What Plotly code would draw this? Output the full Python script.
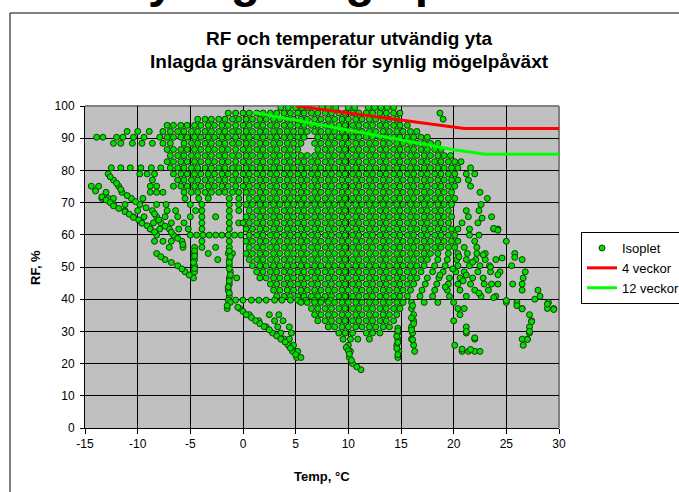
import plotly.graph_objects as go

# ---------------- data ----------------
# Isoplet scatter, organised as rows of temperatures at roughly constant RF
t_99_5 = [3.6,4.3,5,5.6,6.2,7.5,8.1,8.8,10,10.6,11.9,12.5,13.1,13.7,14.3]
t_97_8 = [-1.4,-0.7,0,0.6,1.3,1.9,2.6,3.2,3.9,4.5,5.2,5.8,6.5,7.1,7.8,8.4,9.1,9.7,10.4,11,11.7,12.3,13,13.6,14.3,14.9,18.7]
t_95_9 = [-4.3,-3.6,-3,-2.3,-1.7,-1,-0.4,0.3,0.9,1.6,2.2,2.9,3.5,4.2,4.8,5.5,6.1,6.8,7.4,8.1,8.7,9.4,10,10.7,11.3,12,12.6,13.3,13.9,14.6,19]
t_94_0 = [-7.2,-6.6,-5.9,-5.3,-4.6,-4,-3.3,-2.7,-2,-1.4,-0.7,0,0.6,1.3,1.9,2.6,3.2,3.9,4.5,5.2,5.8,6.5,7.1,7.8,8.4,9.1,9.7,10.4,11,11.7,12.3,13,13.6,14.3,14.9,15.6]
t_92_1 = [-11,-10,-8.9,-7.6,-6.9,-6.2,-5.6,-4.9,-4.3,-3.6,-3,-2.3,-1.7,-1,-0.4,0.3,0.9,1.6,2.2,2.9,3.5,4.2,4.8,5.5,6.1,6.8,7.4,8.1,8.7,9.4,10,10.7,11.3,12,12.6,13.3,13.9,14.6,15.2,15.9,16.5]
t_90_3 = [-13.9,-13.3,-12,-11.4,-10.4,-9.4,-7.9,-7.2,-6.6,-5.9,-5.3,-4.6,-4,-3.3,-2.7,-2,-1.4,-0.7,0,0.6,1.3,1.9,2.6,3.2,3.9,4.5,5.2,5.8,7.1,7.8,8.4,9.1,9.7,10.4,11,11.7,12.3,13,13.6,14.3,14.9,15.6,16.2,16.9,17.5]
t_88_4 = [-12.3,-11.6,-10.5,-9.6,-8.6,-7.6,-6.9,-5.6,-4.9,-4.3,-3.6,-3,-2.3,-1.7,-1,-0.4,0.3,0.9,1.6,2.2,2.9,3.5,4.2,4.8,5.5,6.8,7.4,8.1,8.7,9.4,10,10.7,11.3,12,12.6,13.3,13.9,14.6,15.2,15.9,16.5,17.2,17.8,18.5]
t_86_5 = [-7.2,-6.6,-5.9,-5.3,-4.6,-4,-3.3,-2.7,-2,-1.4,-0.7,0,0.6,1.3,1.9,2.6,3.2,3.9,4.5,5.2,7.1,7.8,8.4,9.1,9.7,10.4,11,11.7,12.3,13,13.6,14.3,14.9,15.6,16.2,16.9,17.5,18.2,18.8]
t_84_6 = [-6.9,-6.2,-5.6,-4.9,-4.3,-3.6,-3,-2.3,-1.7,-1,-0.4,0.3,0.9,1.6,2.2,2.9,3.5,4.2,4.8,5.5,6.1,6.8,7.4,8.1,8.7,9.4,10,10.7,11.3,12,12.6,13.3,13.9,14.6,15.2,15.9,16.5,17.2,17.8,18.5,19.1,19.7]
t_82_7 = [-7.2,-6.6,-5.9,-5.3,-4.6,-4,-3.3,-2.7,-2,-1.4,-0.7,0,0.6,1.3,1.9,2.6,3.2,3.9,4.5,5.2,5.8,6.5,7.1,7.8,8.4,9.1,9.7,10.4,11,11.7,12.3,13,13.6,14.3,14.9,15.6,16.2,16.9,17.5,18.2,18.8,19.5,20.1,20.7]
t_80_8 = [-12.5,-11.6,-10.7,-9.7,-8.7,-7.8,-6.9,-6.2,-5.6,-4.9,-4.3,-3.6,-3,-2.3,-1.7,-1,-0.4,0.3,0.9,1.6,2.2,2.9,3.5,4.2,4.8,5.5,6.1,6.8,7.4,8.1,8.7,9.4,10,10.7,11.3,12,12.6,13.3,13.9,14.6,15.2,15.9,16.5,17.2,17.8,18.5,19.1,19.8,20.4,21.6]
t_78_9 = [-12.8,-9.8,-9.1,-8.4,-6.6,-5.9,-5.3,-4.6,-4,-3.3,-2.7,-2,-1.4,-0.7,0,0.6,1.3,1.9,2.6,3.2,3.9,4.5,5.2,5.8,6.5,7.1,7.8,8.4,9.1,9.7,10.4,11,11.7,12.3,13,13.6,14.3,14.9,15.6,16.2,16.9,17.5,18.2,18.8,19.5,20.1,21.2,22]
t_77_0 = [-12.3,-8.6,-6.2,-5.6,-4.9,-4.3,-3.6,-3,-2.3,-1.7,-1,-0.4,0.3,0.9,1.6,2.2,2.9,3.5,4.2,4.8,5.5,6.1,6.8,7.4,8.1,8.7,9.4,10,10.7,11.3,12,12.6,13.3,13.9,14.6,15.2,15.9,16.5,17.2,17.8,18.5,19.1,19.8,20.4,21.4]
t_75_1 = [-14.4,-13.7,-11.8,-8.8,-8.2,-6.6,-5.9,-5.3,-4.6,-4,-3.3,-2.7,-2,-1.4,-0.7,0,0.6,1.3,1.9,2.6,3.2,3.9,4.5,5.2,5.8,6.5,7.1,7.8,8.4,9.1,9.7,10.4,11,11.7,12.3,13,13.6,14.3,14.9,15.6,16.2,16.9,17.5,18.2,18.8,19.5,20.1,21.6]
t_73_2 = [-13,-11.5,-8.8,-8.2,-7.6,-5.6,-4.9,-4.3,-3.6,-3,-2.3,-1.7,-1,-0.4,0.3,0.9,1.6,2.2,2.9,3.5,4.2,4.8,5.5,6.1,6.8,7.4,8.1,8.7,9.4,10,10.7,11.3,12,12.6,13.3,13.9,14.6,15.2,15.9,16.5,17.2,17.8,18.5,19.1,19.8,22.5]
t_71_3 = [-13.4,-12.8,-12.3,-10.6,-9.5,-5.5,-4.2,-3.3,-1.3,-0.4,0.6,1.3,1.9,2.6,3.2,3.9,4.5,5.2,5.8,6.5,7.1,7.8,8.4,9.1,9.7,10.4,11,11.7,12.3,13,13.6,14.3,14.9,15.6,16.2,16.9,17.5,18.2,18.8,19.5,20.1,23.2]
t_69_4 = [-12.3,-11.2,-9.8,-8.2,-7.3,-5,-3.9,-1.3,-0.4,0.3,0.9,1.6,2.2,2.9,3.5,4.2,4.8,5.5,6.1,6.8,7.4,8.1,8.7,9.4,10,10.7,11.3,12,12.6,13.3,13.9,14.6,15.2,15.9,16.5,17.2,17.8,18.5,19.1,19.8,22.6]
t_67_5 = [-11.2,-10,-8.6,-7.2,-6.4,-4.5,-3.9,-1.3,-0.4,0.6,1.3,1.9,2.6,3.2,3.9,4.5,5.2,5.8,6.5,7.1,7.8,8.4,9.1,9.7,10.4,11,11.7,12.3,13,13.6,14.3,14.9,15.6,16.2,16.9,17.5,18.2,18.8,19.5,21.2,22.4]
t_65_6 = [-10.4,-9.4,-8.2,-7.4,-6.2,-5,-3.9,-2.6,-1.3,0.3,0.9,1.6,2.2,2.9,3.5,4.2,4.8,5.5,6.1,6.8,7.4,8.1,8.7,9.4,10,10.7,11.3,12,12.6,13.3,13.9,14.6,15.2,15.9,16.5,17.2,17.8,18.5,19.1,19.8,21.4,23.6]
t_63_7 = [-9.6,-8.5,-7.8,-6.8,-5.6,-3.9,-1.3,-0.4,0,0.6,1.3,1.9,2.6,3.2,3.9,4.5,5.2,5.8,6.5,7.1,7.8,8.4,9.1,9.7,10.4,11,11.7,12.3,13,13.6,14.3,14.9,15.6,16.2,16.9,17.5,18.2,18.8,19.5,20.8,22.3]
t_61_8 = [-8.8,-7.9,-7,-6.1,-5.2,-3.9,-1.3,0.3,0.9,1.6,2.2,2.9,3.5,4.2,4.8,5.5,6.1,6.8,7.4,8.1,8.7,9.4,10,10.7,11.3,12,12.6,13.3,13.9,14.6,15.2,15.9,16.5,17.2,17.8,18.5,19.1,19.8,20.4,21.5,23.8,24.2]
t_59_9 = [-8.2,-6.6,-5,-4.4,-3.8,-3.2,-2.6,-2,-1.4,-0.8,-0.2,0.6,1.3,1.9,2.6,3.2,3.9,4.5,5.2,5.8,6.5,7.1,7.8,8.4,9.1,9.7,10.4,11,11.7,12.3,13,13.6,14.3,14.9,15.6,16.2,16.9,17.5,18.2,18.8,19.5,20.1,21.5,22.4]
t_58_0 = [-8.4,-7.6,-6.8,-5.8,-3.9,-1.3,0.3,0.9,1.6,2.2,2.9,3.5,4.2,4.8,5.5,6.1,6.8,7.4,8.1,8.7,9.4,10,10.7,11.3,12,12.6,13.3,13.9,14.6,15.2,15.9,16.5,17.2,17.8,18.5,19.1,19.8,20.4,22,25]
t_56_1 = [-7,-5.7,-4.6,-3.9,-2.6,-1.3,0.6,1.3,1.9,2.6,3.2,3.9,4.5,5.2,5.8,6.5,7.1,7.8,8.4,9.1,9.7,10.4,11,11.7,12.3,13,13.6,14.3,14.9,15.6,16.2,16.9,17.5,18.2,18.8,19.5,20.1,21,22.2]
t_54_2 = [-8.2,-4.6,-3.3,-1.4,-1,0.3,0.9,1.6,2.2,2.9,3.5,4.2,4.8,5.5,6.1,6.8,7.4,8.1,8.7,9.4,10,10.7,11.3,12,12.6,13.3,13.9,14.6,15.2,15.9,16.5,17.2,17.8,18.5,19.5,20.4,21.3,22.2,23,25.8]
t_52_3 = [-7.4,-4.6,-2.4,-1.3,0.6,1.3,1.9,2.6,3.2,3.9,4.5,5.2,5.8,6.5,7.1,7.8,8.4,9.1,9.7,10.4,11,11.7,12.3,13,13.6,14.3,14.9,15.6,16.2,16.9,17.5,18.5,19.4,20.3,21.2,22.1,23,24,26.5]
t_50_4 = [-6.2,-4.6,-1.3,0.9,1.6,2.2,2.9,3.5,4.2,4.8,5.5,6.1,6.8,7.4,8.1,8.7,9.4,10,10.7,11.3,12,12.6,13.3,13.9,14.6,15.2,15.9,16.5,17.2,18.2,19.2,20.4,21.5,22.5,23.4,25.5]
t_48_5 = [-5.5,-4.6,-1.2,1.3,1.9,2.6,3.2,3.9,4.5,5.2,5.8,6.5,7.1,7.8,8.4,9.1,9.7,10.4,11,11.7,12.3,13,13.6,14.3,14.9,15.6,16.2,16.9,18,19,20.2,21,22.3,23.5,24.4,26.8]
t_46_6 = [-4.7,-1.3,-0.6,1.6,2.2,2.9,3.5,4.2,4.8,5.5,6.1,6.8,7.4,8.1,8.7,9.4,10,10.7,11.3,12,12.6,13.3,13.9,14.6,15.2,15.9,16.5,17.5,18.6,19.6,20.6,21.8,22.8,26.6]
t_44_7 = [-1.3,2.6,3.2,3.9,4.5,5.2,5.8,6.5,7.1,7.8,8.4,9.1,9.7,10.4,11,11.7,12.3,13,13.6,14.3,14.9,15.6,16.2,17.3,18.4,19.5,20.4,21.6,22.9,24.2,25.6,26.5]
t_42_8 = [-1.4,2.9,3.5,4.2,4.8,5.5,6.1,6.8,7.4,8.1,8.7,9.4,10,10.7,11.3,12,12.6,13.3,13.9,14.6,15.2,15.9,17,18.2,19.4,20.6,22,23.3,26.5,28]
t_40_9 = [-1.3,3.2,3.9,4.5,5.2,5.8,6.5,7.1,7.8,8.4,9.1,9.7,10.4,11,11.7,12.3,13,13.6,14.3,14.9,15.6,16.8,18,19.6,21.2,22.6,24,28.2]
t_39_7 = [-1.4,-0.7,0,0.8,1.5,2.2,3,3.7,4.5,5.2,6,6.8,7.5,8.3]
t_39_0 = [-1.2,5.5,6.1,6.8,7.4,8.1,8.7,9.4,10,10.7,11.3,12,12.6,13.3,13.9,14.6,15.2,16,17.2,18.5,20,25,26,29]
t_37_1 = [-1.5,-0.3,6.5,7.1,7.8,8.4,9.1,9.7,10.4,11,11.7,12.3,13,13.6,14.3,14.9,16,20.4,21,26.5,28.9,29.5]
t_35_2 = [0.6,2.5,3.4,6.8,7.4,8.1,8.7,9.4,10,10.7,11.3,12,12.6,13.3,13.9,14.6,16.2,20.6,27.2]
t_33_3 = [1.5,3,3.8,7.1,7.8,8.4,9.1,9.7,10.4,11,11.7,12.3,13,13.6,14.3,16.2,20,27.4]
t_31_4 = [2.2,3.3,4.4,8.1,8.7,9.4,10,10.7,11.3,12,12.6,13.3,13.9,16,21.2,27.2]
t_29_5 = [2.8,3.6,4.6,9.1,9.7,10.4,11.7,12.3,13,14.7,16.1,21.2,27.2]
t_27_6 = [3.9,4.4,9.5,10.2,10.9,12,14.7,16,22,26.5,27]
t_25_7 = [4.3,4.8,10,14.6,16.2,20.1,26.6]
t_23_8 = [4.7,5.2,10.2,14.8,16.3,20.8,21.4,22,22.5]
t_21_9 = [5.1,5.5,10.1,14.7]
t_20_0 = [10.4]
t_18_1 = [11.2]

isoplet_rows = [
    (99.5, t_99_5), (97.8, t_97_8), (95.9, t_95_9), (94.0, t_94_0), (92.1, t_92_1),
    (90.3, t_90_3), (88.4, t_88_4), (86.5, t_86_5), (84.6, t_84_6), (82.7, t_82_7),
    (80.8, t_80_8), (78.9, t_78_9), (77.0, t_77_0), (75.1, t_75_1), (73.2, t_73_2),
    (71.3, t_71_3), (69.4, t_69_4), (67.5, t_67_5), (65.6, t_65_6), (63.7, t_63_7),
    (61.8, t_61_8), (59.9, t_59_9), (58.0, t_58_0), (56.1, t_56_1), (54.2, t_54_2),
    (52.3, t_52_3), (50.4, t_50_4), (48.5, t_48_5), (46.6, t_46_6), (44.7, t_44_7),
    (42.8, t_42_8), (40.9, t_40_9), (39.7, t_39_7), (39.0, t_39_0), (37.1, t_37_1),
    (35.2, t_35_2), (33.3, t_33_3), (31.4, t_31_4), (29.5, t_29_5), (27.6, t_27_6),
    (25.7, t_25_7), (23.8, t_23_8), (21.9, t_21_9), (20.0, t_20_0), (18.1, t_18_1),
]

# extra isolated chains of points (temperature, RF)
chain_temp = [-14,-13.4,-13,-12.6,-12.3,-11.8,-11.2,-10.8,-10.4,-9.9,-9.6,-9.1,-8.8,-8.4,
              -12.6,-12,-11.6,-11,-10.2,-9.2,-8.4,-8,-7.4,-6.8,-6.2,-5.7,
              -7.8,-6.8,-5.8,-5.1,-4.6,-4.6,-4.7,-4.6,
              -1.3,-1.2,-1.3,-1.3,-1.2,-1.3,-1.4,-1.3,-1.5,
              -0.5,0,0.3,0.8,1.2,1.6,2,2.5,3.2,3.6,4,4.5,5,
              9.8,10,10.1,10.3,10.8,
              14.7,14.6,14.7,14.6,14.7,14.7,
              16.1,16,16.2,16,16.1,
              21.2,22,20.8,21.6,
              25,26,28.9,29.5,27.7,26.5,27.4,27.2,27,
              23.8,22.7,24.2,25.8,
              20.5,21.8,23.5,24.2,20.9,23.6,22.4,23.8,19.2,21.2,24.6,22.8,19.9,18.7]
chain_rf = [73.6,71.8,70.8,70,69,68.2,67.2,66.4,65.4,64.6,63.6,62.8,61.8,60.9,
            78,76,74.1,72.2,70.3,68.4,66.5,64.6,62.7,60.8,58.9,57,
            53.2,51.4,49.4,47.5,55,53.4,51.4,49.5,
            55,53.2,51.4,49.5,47.6,45.7,43.8,41.9,38,
            37.5,36.2,35.2,34.3,33.3,32.4,31.5,30.5,28.6,27.6,26.7,24.8,22.8,
            25,24,23,21,19,
            31,28.5,26.6,24.7,22.8,30.2,
            38,34.2,32.4,30.4,27.4,
            30,28,24.5,24.4,
            39.6,38,38.5,36.8,40,37,33,30,27.5,
            62,65.2,61.4,53,
            53.2,51.5,50,47.6,45.7,44.7,41.9,40.5,43.8,47.5,52.8,53.8,49.4,47.5]

# limit lines
veckor4_temp = [5, 21, 30]
veckor4_rf = [100, 93, 93]
veckor12_temp = [1, 20, 23, 30]
veckor12_rf = [98, 86.4, 85, 85]

x_ticks = [-15, -10, -5, 0, 5, 10, 15, 20, 25, 30]
y_ticks = [0, 10, 20, 30, 40, 50, 60, 70, 80, 90, 100]

# ---------------- build ----------------
iso_x, iso_y = [], []
for rf, temps in isoplet_rows:
    iso_x.extend(temps)
    iso_y.extend([rf] * len(temps))
iso_x.extend(chain_temp)
iso_y.extend(chain_rf)

FONT = "Liberation Sans, Arial, sans-serif"

fig = go.Figure()
fig.add_trace(go.Scatter(
    x=iso_x, y=iso_y, mode="markers", name="Isoplet",
    marker=dict(size=6, color="#00e000", line=dict(color="#143a06", width=1)),
))
fig.add_trace(go.Scatter(
    x=veckor4_temp, y=veckor4_rf, mode="lines", name="4 veckor",
    line=dict(color="#ff0000", width=3),
))
fig.add_trace(go.Scatter(
    x=veckor12_temp, y=veckor12_rf, mode="lines", name="12 veckor",
    line=dict(color="#00ff00", width=3),
))

L, R, T, B = 85, 120, 106, 64
W, H = 679, 492
pw, ph = W - L - R, H - T - B

def px_x(p):
    return (p - L) / pw

def px_y(p):
    return (H - B - p) / ph

fig.update_layout(
    width=W, height=H,
    margin=dict(l=L, r=R, t=T, b=B, pad=0, autoexpand=False),
    paper_bgcolor="white",
    plot_bgcolor="#c0c0c0",
    font=dict(family=FONT, size=12, color="black"),
    showlegend=True,
    legend=dict(
        x=px_x(581), y=px_y(232), xanchor="left", yanchor="top",
        bgcolor="white", bordercolor="black", borderwidth=1,
        font=dict(family=FONT, size=13, color="black"),
        itemwidth=30, tracegroupgap=0,
    ),
    xaxis=dict(
        range=[-15, 30], tickvals=x_ticks, ticktext=[str(v) for v in x_ticks],
        showgrid=True, gridcolor="black", gridwidth=1,
        showline=True, linecolor="black", linewidth=1,
        ticks="outside", ticklen=5, tickcolor="black",
        zeroline=False, fixedrange=True,
        tickfont=dict(family=FONT, size=12),
    ),
    yaxis=dict(
        range=[0, 100], tickvals=y_ticks, ticktext=[str(v) for v in y_ticks],
        showgrid=True, gridcolor="black", gridwidth=1,
        showline=True, linecolor="black", linewidth=1,
        ticks="outside", ticklen=4, tickcolor="black",
        zeroline=False, fixedrange=True, ticklabelstandoff=3,
        tickfont=dict(family=FONT, size=12),
    ),
    shapes=[
        # outer chart border
        dict(type="rect", xref="paper", yref="paper",
             x0=px_x(10), x1=px_x(720), y0=px_y(540), y1=px_y(13),
             line=dict(color="black", width=1), fillcolor="rgba(0,0,0,0)", layer="below"),
        # plot-area border top/right (grey)
        dict(type="line", xref="paper", yref="paper", x0=0, x1=1, y0=1, y1=1,
             line=dict(color="#808080", width=2), layer="below"),
        dict(type="line", xref="paper", yref="paper", x0=1, x1=1, y0=0, y1=1,
             line=dict(color="#808080", width=2), layer="below"),
    ],
    annotations=[
        dict(text="<b>Synlig mögelpåväxt</b>", xref="paper", yref="paper",
             x=px_x(341), y=px_y(-20), xanchor="center", yanchor="middle",
             showarrow=False, font=dict(family=FONT, size=48, color="black")),
        dict(text="<b>RF och temperatur utvändig yta</b>", xref="paper", yref="paper",
             x=px_x(349), y=px_y(38), xanchor="center", yanchor="middle",
             showarrow=False, font=dict(family=FONT, size=19)),
        dict(text="<b>Inlagda gränsvärden för synlig mögelpåväxt</b>", xref="paper", yref="paper",
             x=px_x(349), y=px_y(62), xanchor="center", yanchor="middle",
             showarrow=False, font=dict(family=FONT, size=19)),
        dict(text="<b>Temp, °C</b>", xref="paper", yref="paper",
             x=px_x(322), y=px_y(476), xanchor="center", yanchor="middle",
             showarrow=False, font=dict(family=FONT, size=13)),
        dict(text="<b>RF, %</b>", xref="paper", yref="paper",
             x=px_x(35), y=px_y(268), xanchor="center", yanchor="middle",
             textangle=-90, showarrow=False, font=dict(family=FONT, size=13)),
    ],
)

fig.write_html(
    "out.html",
    config={"displayModeBar": False},
    post_script="document.body.style.margin='0px';document.body.style.overflow='hidden';",
)
